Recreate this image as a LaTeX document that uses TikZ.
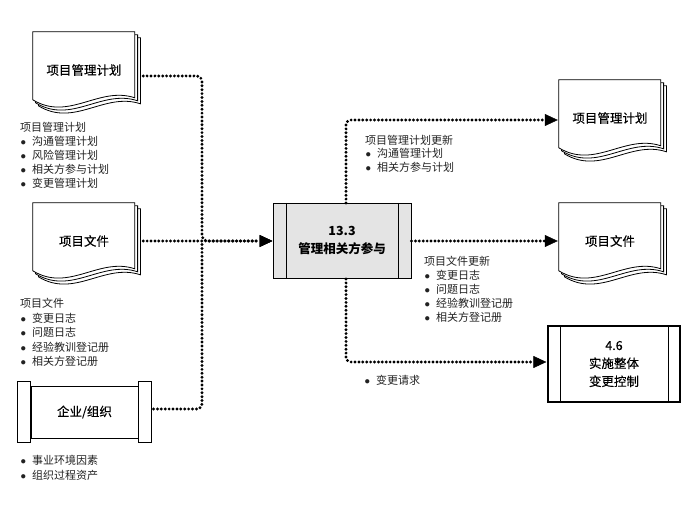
\documentclass[tikz,border=0pt]{standalone}
\usepackage{fontspec}
\setmainfont{Noto Sans CJK SC}
\newfontfamily\midfont{Noto Sans CJK SC}[FakeBold=0.3]
\usetikzlibrary{arrows.meta, calc, backgrounds}
\definecolor{HubGray}{HTML}{E4E4E4}
\definecolor{InkGray}{HTML}{222222}
\tikzset{
  docnode/.style={minimum width=102pt, minimum height=76pt, inner sep=0pt, font=\fontsize{12.5}{15}\selectfont\midfont},
  sheet/.style={draw=black, line width=0.8pt, fill=white},
  boxline/.style={draw=black, line width=1pt},
  procbox/.style={boxline, align=center, inner sep=0pt, font=\fontsize{12.5}{18}\selectfont\midfont},
  hubbox/.style={procbox, fill=HubGray, minimum width=138pt, minimum height=75pt, font=\fontsize{12.5}{18}\selectfont\bfseries},
  ctrlbox/.style={procbox, fill=white, minimum width=132pt, minimum height=76pt, line width=1.3pt},
  envbox/.style={procbox, fill=white, minimum width=107pt, minimum height=52pt},
  notes/.style={anchor=north west, align=left, inner sep=0pt, text=InkGray, font=\fontsize{11}{14}\selectfont},
  flow/.style={line width=3.2pt, line cap=round, dash pattern=on 0pt off 3.9pt, rounded corners=5pt},
  flowarrow/.style={flow, -{Triangle[length=13pt, width=12pt, line width=0.5pt]}}
}
\newcommand{\itm}{\makebox[12pt][l]{\hspace{0.5pt}$\bullet$}}
% stacked sheets behind a document node
\newcommand{\docsheets}[1]{%
  \begin{pgfonlayer}{background}
  \foreach \k in {2,1,0}{%
    \draw[sheet] ($(#1.north west)+(2.8*\k,3*\k)$) -- ++(102,0) -- ++(0,66)
      .. controls +(-36,-12) and +(36,22) .. ($(#1.north west)+(2.8*\k,3*\k+68)$) -- cycle;
  }
  \end{pgfonlayer}}

\begin{document}
\begin{tikzpicture}[x=1pt, y=-1pt]
\useasboundingbox (0,0) rectangle (697,516);

% inputs
\node[docnode] (plan) at (84,70) {项目管理计划};
\node[docnode] (docs) at (84,241) {项目文件};
\node[envbox] (org) at (84.5,412) {企业/组织};
\docsheets{plan}
\docsheets{docs}
\draw[boxline, fill=white] ($(org.north west)+(-13,-4)$) rectangle ($(org.south west)+(0,4)$);
\draw[boxline, fill=white] ($(org.north east)+(0,-4)$) rectangle ($(org.south east)+(13,4)$);

% process
\node[hubbox] (hub) at (342,241) {13.3\\管理相关方参与};
\draw[boxline] ($(hub.north west)+(14,0)$) -- ($(hub.south west)+(14,0)$);
\draw[boxline] ($(hub.north east)+(-13,0)$) -- ($(hub.south east)+(-13,0)$);

% outputs
\node[docnode] (rplan) at (610,118) {项目管理计划};
\node[docnode] (rdocs) at (610,241) {项目文件};
\docsheets{rplan}
\docsheets{rdocs}
\node[ctrlbox] (ctrl) at (614,364) {4.6\\实施整体\\变更控制};
\draw[boxline] ($(ctrl.north west)+(13,0)$) -- ($(ctrl.south west)+(13,0)$);
\draw[boxline] ($(ctrl.north east)+(-12,0)$) -- ($(ctrl.south east)+(-12,0)$);

% notes
\node[notes] (planlist) at (20,122) {项目管理计划\\\itm 沟通管理计划\\\itm 风险管理计划\\\itm 相关方参与计划\\\itm 变更管理计划};
\node[notes, font=\fontsize{11}{14.5}\selectfont] (docslist) at (20,298) {项目文件\\\itm 变更日志\\\itm 问题日志\\\itm 经验教训登记册\\\itm 相关方登记册};
\node[notes, font=\fontsize{11}{15}\selectfont] (orglist) at (20,455) {\itm 事业环境因素\\\itm 组织过程资产};
\node[notes, font=\fontsize{11}{13.5}\selectfont] (rplanlist) at (365,135) {项目管理计划更新\\\itm 沟通管理计划\\\itm 相关方参与计划};
\node[notes] (rdocslist) at (424,256) {项目文件更新\\\itm 变更日志\\\itm 问题日志\\\itm 经验教训登记册\\\itm 相关方登记册};
\node[notes] (ctrllist) at (364,375) {\itm 变更请求};

% flows
\coordinate (trunk) at (202,241);
\draw[flowarrow] ($(plan.east)+(8,6)$) -| (trunk) -- (hub.west);
\draw[flowarrow] ($(docs.east)+(8,0)$) -- (hub.west);
\draw[flow] ($(org.east)+(15,-3)$) -| (trunk);
\draw[flowarrow] ($(hub.north)+(4,0)$) |- ($(rplan.west)+(-1,2)$);
\draw[flowarrow] (hub.east) -- ($(rdocs.west)+(-1,0)$);
\draw[flowarrow] ($(hub.south)+(4,0)$) |- ($(ctrl.west)+(-1,-2)$);
\end{tikzpicture}
\end{document}
